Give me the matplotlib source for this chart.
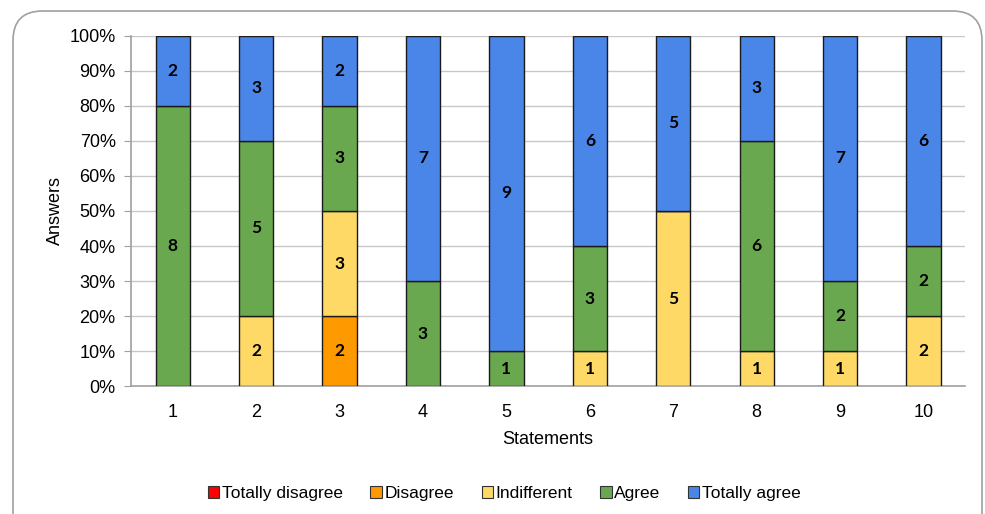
import numpy as np
import matplotlib.pyplot as plt
from matplotlib.patches import FancyBboxPatch, Patch

# Respuestas por afirmación (10 personas por afirmación)
statements = ['1', '2', '3', '4', '5', '6', '7', '8', '9', '10']
categories = ['Totally disagree', 'Disagree', 'Indifferent', 'Agree', 'Totally agree']
totally_disagree = [0, 0, 0, 0, 0, 0, 0, 0, 0, 0]
disagree = [0, 0, 2, 0, 0, 0, 0, 0, 0, 0]
indifferent = [0, 2, 3, 0, 0, 1, 5, 1, 1, 2]
agree = [8, 5, 3, 3, 1, 3, 0, 6, 2, 2]
totally_agree = [2, 3, 2, 7, 9, 6, 5, 3, 7, 6]

colors = ['#ff0000', '#ff9900', '#ffd966', '#6aa84f', '#4a86e8']

counts = np.array([totally_disagree, disagree, indifferent, agree, totally_agree], dtype=float)
totals = counts.sum(axis=0)
shares = counts / totals * 100

plt.rcParams['font.family'] = ['Liberation Sans', 'DejaVu Sans']

fig = plt.figure(figsize=(9.85, 5.14), dpi=100)
ax = fig.add_axes([0.133, 0.249, 0.847, 0.681])

# Marco redondeado alrededor de todo el gráfico
frame = FancyBboxPatch((13 / 985, -30 / 514), 969 / 985, 533 / 514,
                       boxstyle='round,pad=0,rounding_size=0.03',
                       transform=fig.transFigure, facecolor='none',
                       edgecolor='#a0a0a0', linewidth=1.2, mutation_aspect=985 / 514)
fig.patches.append(frame)

x = np.arange(1, len(statements) + 1)
bottom = np.zeros(len(statements))
for i, cat in enumerate(categories):
    ax.bar(x, shares[i], bottom=bottom, width=0.41, color=colors[i],
           edgecolor='#1a1a1a', linewidth=1.0, zorder=3)
    for j in range(len(statements)):
        if counts[i, j] > 0:
            ax.text(x[j], bottom[j] + shares[i, j] / 2, f'{int(counts[i, j])}',
                    ha='center', va='center', fontsize=12.5, fontweight='bold',
                    family=['Lato', 'DejaVu Sans'], color='black', zorder=4)
    bottom += shares[i]

ax.set_xlim(0.5, 10.5)
ax.set_ylim(0, 100)
ax.set_yticks(np.arange(0, 101, 10))
ax.set_yticklabels([f'{v}%' for v in range(0, 101, 10)])
ax.set_xticks(x)
ax.set_xticklabels(statements)
ax.tick_params(axis='y', labelsize=13, length=5, color='#a0a0a0', pad=6)
ax.tick_params(axis='x', labelsize=13, length=0, pad=13)
ax.yaxis.grid(True, color='#c8c8c8', linewidth=1.0, zorder=0)
ax.set_axisbelow(True)
for side in ['top', 'right']:
    ax.spines[side].set_visible(False)
for side in ['left', 'bottom']:
    ax.spines[side].set_color('#a0a0a0')
    ax.spines[side].set_linewidth(1.2)

ax.set_xlabel('Statements', fontsize=13, labelpad=7)
ax.set_ylabel('Answers', fontsize=13, labelpad=4)

handles = [Patch(facecolor=c, edgecolor='#333333', linewidth=0.8) for c in colors]
fig.legend(handles, categories, loc='center', bbox_to_anchor=(0.512, 0.040),
           ncol=5, frameon=False, fontsize=12.5, handlelength=0.65, handleheight=0.65,
           handletextpad=0.15, columnspacing=1.6)

plt.savefig('out.png', dpi=100)
